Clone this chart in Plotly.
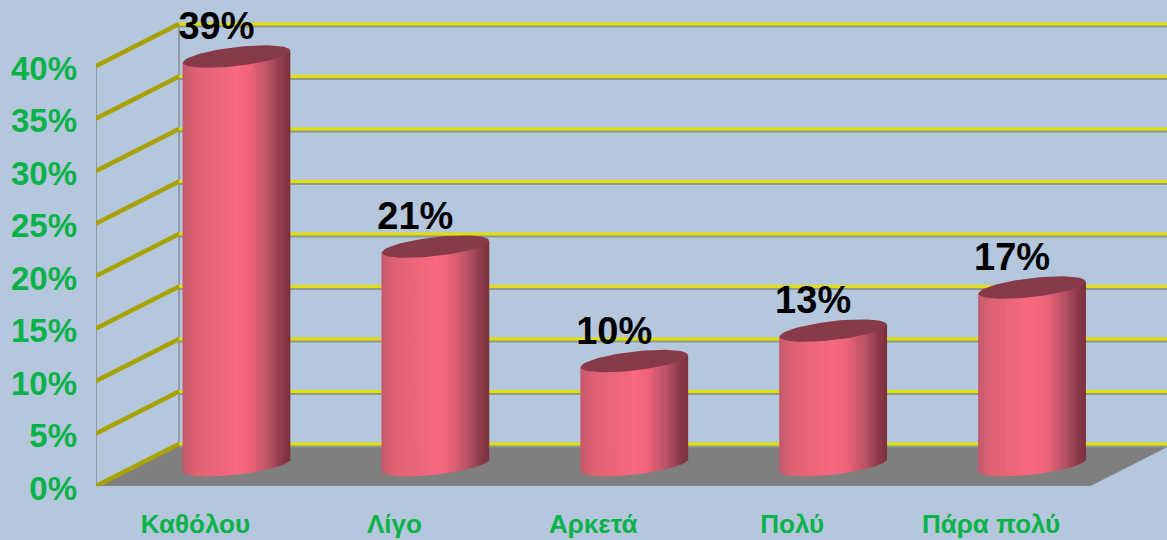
import numpy as np
import plotly.graph_objects as go

categories = ["Καθόλου", "Λίγο", "Αρκετά", "Πολύ", "Πάρα πολύ"]
values = [38.9, 20.8, 9.9, 12.8, 16.9]
ticks = [0, 5, 10, 15, 20, 25, 30, 35, 40]

BG = "#b4c7dc"
PX_X, PX_Y = 198.9, 10.5
DEPTH_X, DEPTH_Y = 83 / PX_X, 4.0
BAR_SHIFT = 41 / PX_X
BAR_HALF = 53.5 / PX_X
BASE = 2.0
SKEW, MINOR = 6 / PX_Y, 9.5 / PX_Y
XR = [-0.5, -0.5 + (1167 - 96) / PX_X]
YR = [0, 486 / PX_Y]
X_MAX = XR[1]

stops_pos = [0, 0.12, 0.5, 0.62, 0.8, 0.93, 1]
stops_rgb = np.array([[196, 88, 108], [222, 98, 116], [249, 105, 128], [240, 100, 122],
                      [186, 84, 102], [140, 58, 72], [124, 48, 62]], float)

def shade(u):
    r, g, b = (np.interp(u, stops_pos, stops_rgb[:, k]) for k in range(3))
    return f"rgb({r:.0f},{g:.0f},{b:.0f})"

fig = go.Figure()

# floor
fig.add_trace(go.Scatter(
    x=[-0.5, 4.5, 4.5 + DEPTH_X, -0.5 + DEPTH_X, -0.5], y=[0, 0, DEPTH_Y, DEPTH_Y, 0],
    mode="lines", line=dict(width=0), fill="toself", fillcolor="#7f7f7f", hoverinfo="skip"))

# vertical walls
for xv, y0 in ((-0.5, 0), (-0.5 + DEPTH_X, DEPTH_Y)):
    fig.add_trace(go.Scatter(x=[xv, xv], y=[y0, y0 + ticks[-1]], mode="lines",
                             line=dict(color="#8f9ba6", width=2), hoverinfo="skip"))

# grid lines
for t in ticks:
    fig.add_trace(go.Scatter(x=[-0.5 + DEPTH_X, X_MAX], y=[t + DEPTH_Y - 0.12] * 2, mode="lines",
                             line=dict(color="#8f9a90", width=4.5), hoverinfo="skip"))
    fig.add_trace(go.Scatter(x=[-0.5 + DEPTH_X, X_MAX], y=[t + DEPTH_Y] * 2, mode="lines",
                             line=dict(color="#e4e000", width=3), hoverinfo="skip"))
    fig.add_trace(go.Scatter(x=[-0.5, -0.5 + DEPTH_X], y=[t, t + DEPTH_Y], mode="lines",
                             line=dict(color="#a8a200", width=4.5), hoverinfo="skip"))

# cylinder bodies: thin vertical strips through the overlay axes
n = 54
xs, bases, hs, cols = [], [], [], []
for i, v in enumerate(values):
    c = i + BAR_SHIFT
    for k in range(n):
        u = (k + 0.5) / n
        s = 2 * u - 1
        low = BASE + SKEW * s - MINOR * np.sqrt(1 - s * s)
        xs.append(c + s * BAR_HALF)
        bases.append(low)
        hs.append(BASE + v + SKEW * s - low)
        cols.append(shade(u))
fig.add_trace(go.Bar(x=xs, y=hs, base=bases, width=2 * BAR_HALF / n * 1.4,
                     marker=dict(color=cols, line=dict(width=0), opacity=1),
                     xaxis="x2", yaxis="y2", hoverinfo="skip"))

# cylinder tops
t = np.linspace(0, 2 * np.pi, 80)
for i, v in enumerate(values):
    c = i + BAR_SHIFT
    fig.add_trace(go.Scatter(
        x=c + BAR_HALF * np.cos(t), y=BASE + v + SKEW * np.cos(t) + MINOR * np.sin(t),
        mode="lines", line=dict(width=0), fill="toself", fillcolor="#873a48",
        xaxis="x2", yaxis="y2", hoverinfo="skip"))

# value labels
fig.add_trace(go.Scatter(
    x=[i + BAR_SHIFT - 20 / PX_X for i in range(len(values))],
    y=[BASE + v + 27 / PX_Y for v in values],
    text=[f"{round(v)}%" for v in values], mode="text", textposition="middle center",
    textfont=dict(family="Liberation Sans", size=38, color="#000000", weight="bold"),
    xaxis="x2", yaxis="y2", hoverinfo="skip"))

green = "#0bb24a"
fig.update_layout(
    width=1167, height=540, showlegend=False, barmode="overlay",
    paper_bgcolor=BG, plot_bgcolor=BG,
    margin=dict(l=96, r=0, t=0, b=54, autoexpand=False),
    xaxis=dict(range=XR, tickvals=list(range(5)), ticktext=categories, showgrid=False,
               zeroline=False, showline=False, ticks="", ticklabelstandoff=20,
               tickfont=dict(family="Liberation Sans", size=26, color=green, weight="bold")),
    yaxis=dict(range=YR, tickvals=ticks, ticktext=[f"{t}%" for t in ticks], showgrid=False,
               zeroline=False, showline=False, ticks="", ticklabelstandoff=18, ticklabelshift=2,
               tickfont=dict(family="Liberation Sans", size=33, color=green, weight="bold")),
    xaxis2=dict(range=XR, overlaying="x", visible=False),
    yaxis2=dict(range=YR, overlaying="y", visible=False),
)

fig.write_html("out.html", post_script="document.body.style.margin='0';document.body.style.overflow='hidden';",
               config={"displayModeBar": False})
